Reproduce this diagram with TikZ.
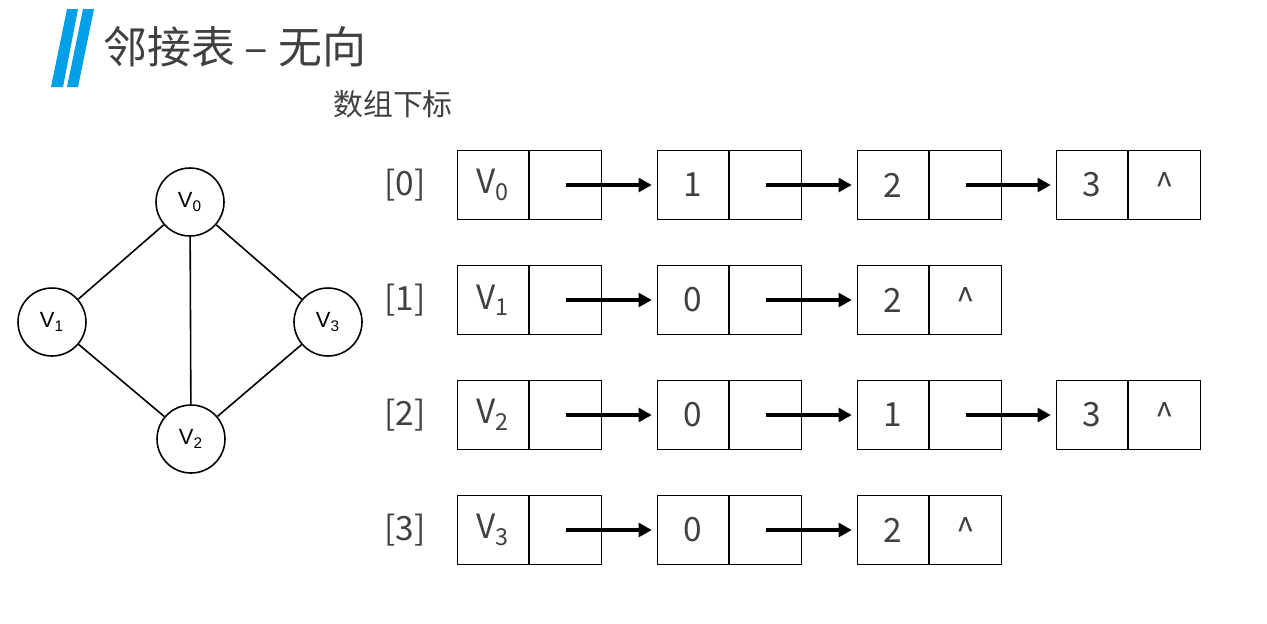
\documentclass[tikz,border=0pt]{standalone}
\usepackage{fontspec}
\setmainfont{Noto Sans CJK SC}
\newfontfamily\graphfont{Liberation Sans}
\usetikzlibrary{positioning,arrows.meta}
\definecolor{titleblue}{HTML}{00A0E9}
\definecolor{textgray}{HTML}{404040}
\tikzset{
  cell/.style={draw, minimum width=1.43cm, minimum height=1.38cm, inner sep=0pt,
    line width=0.6pt, text=textgray, font=\fontsize{19}{19}\selectfont},
  vertex/.style={circle, draw, minimum size=1.36cm, inner sep=0pt, line width=0.9pt,
    font=\graphfont\fontsize{12.5}{12.5}\selectfont},
  edge/.style={line width=0.9pt},
  link/.style={line width=2.2pt, shorten >=2.8pt, -{Triangle[length=7.5pt,width=7.8pt]}},
  index/.style={text=textgray, font=\fontsize{19}{19}\selectfont},
}
\begin{document}
\begin{tikzpicture}[x=0.02cm, y=-0.02cm]
    \useasboundingbox (0,0) rectangle (1267,623);
    % title
    \fill[titleblue] (67,9) -- (78,9) -- (63,87) -- (51,87) -- cycle;
    \fill[titleblue] (83,9) -- (94,9) -- (78,87) -- (67,87) -- cycle;
    \node[anchor=west, inner sep=0pt, text=textgray, font=\fontsize{25}{25}\selectfont] (title) at (103,47) {邻接表 – 无向};
    \node[anchor=west, inner sep=0pt, text=textgray, font=\fontsize{17}{17}\selectfont] (subtitle) at (333,104) {数组下标};
    % graph
    \node[vertex] (v0) at (190,202) {V\textsubscript{0}};
    \node[vertex] (v1) at (52,322) {V\textsubscript{1}};
    \node[vertex] (v3) at (328,322) {V\textsubscript{3}};
    \node[vertex] (v2) at (191,439) {V\textsubscript{2}};
    \draw[edge] (v0) -- (v1);
    \draw[edge] (v0) -- (v2);
    \draw[edge] (v0) -- (v3);
    \draw[edge] (v1) -- (v2);
    \draw[edge] (v3) -- (v2);
    % row 0
    \node[index] (i0) at (405,185) {[0]};
    \node[cell] (r0c0) at (493,185) {V\textsubscript{0}};
    \node[cell, right=0pt of r0c0] (r0c0p) {};
    \node[cell] (r0c1) at (693,185) {1};
    \node[cell, right=0pt of r0c1] (r0c1p) {};
    \node[cell] (r0c2) at (893,185) {2};
    \node[cell, right=0pt of r0c2] (r0c2p) {};
    \node[cell] (r0c3) at (1092,185) {3};
    \node[cell, right=0pt of r0c3] (r0c3p) {\textasciicircum};
    \draw[link] (r0c0p.center) -- (r0c1.west);
    \draw[link] (r0c1p.center) -- (r0c2.west);
    \draw[link] (r0c2p.center) -- (r0c3.west);
    % row 1
    \node[index] (i1) at (405,300) {[1]};
    \node[cell] (r1c0) at (493,300) {V\textsubscript{1}};
    \node[cell, right=0pt of r1c0] (r1c0p) {};
    \node[cell] (r1c1) at (693,300) {0};
    \node[cell, right=0pt of r1c1] (r1c1p) {};
    \node[cell] (r1c2) at (893,300) {2};
    \node[cell, right=0pt of r1c2] (r1c2p) {\textasciicircum};
    \draw[link] (r1c0p.center) -- (r1c1.west);
    \draw[link] (r1c1p.center) -- (r1c2.west);
    % row 2
    \node[index] (i2) at (405,415) {[2]};
    \node[cell] (r2c0) at (493,415) {V\textsubscript{2}};
    \node[cell, right=0pt of r2c0] (r2c0p) {};
    \node[cell] (r2c1) at (693,415) {0};
    \node[cell, right=0pt of r2c1] (r2c1p) {};
    \node[cell] (r2c2) at (893,415) {1};
    \node[cell, right=0pt of r2c2] (r2c2p) {};
    \node[cell] (r2c3) at (1092,415) {3};
    \node[cell, right=0pt of r2c3] (r2c3p) {\textasciicircum};
    \draw[link] (r2c0p.center) -- (r2c1.west);
    \draw[link] (r2c1p.center) -- (r2c2.west);
    \draw[link] (r2c2p.center) -- (r2c3.west);
    % row 3
    \node[index] (i3) at (405,530) {[3]};
    \node[cell] (r3c0) at (493,530) {V\textsubscript{3}};
    \node[cell, right=0pt of r3c0] (r3c0p) {};
    \node[cell] (r3c1) at (693,530) {0};
    \node[cell, right=0pt of r3c1] (r3c1p) {};
    \node[cell] (r3c2) at (893,530) {2};
    \node[cell, right=0pt of r3c2] (r3c2p) {\textasciicircum};
    \draw[link] (r3c0p.center) -- (r3c1.west);
    \draw[link] (r3c1p.center) -- (r3c2.west);
\end{tikzpicture}
\end{document}
